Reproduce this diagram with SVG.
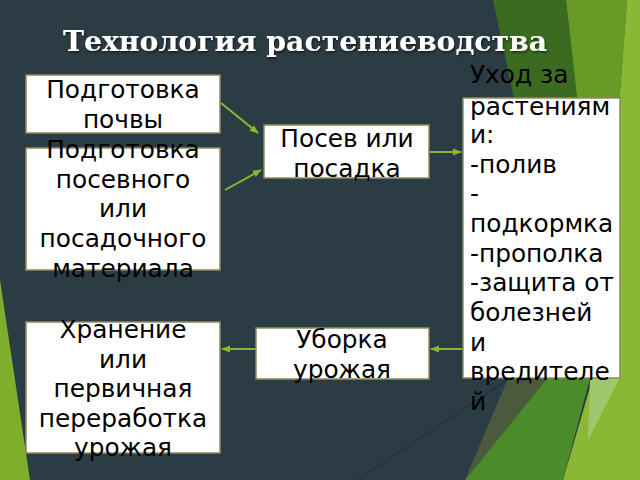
<svg xmlns="http://www.w3.org/2000/svg" width="640" height="480" viewBox="0 0 640 480">
<defs>
<style>
.box{fill:#ffffff;stroke:#8f8a5e;stroke-width:1.5}
.t{font-family:"DejaVu Sans","Noto Sans",sans-serif;font-size:24.8px;fill:#000000}
.c{text-anchor:middle}
.title{font-family:"DejaVu Serif","Liberation Serif",serif;font-weight:bold;font-size:28.3px;fill:#ffffff;text-anchor:middle}
.conn{stroke:#86b830;stroke-width:2;fill:none;marker-end:url(#ah)}
</style>
<marker id="ah" viewBox="0 0 10 10" refX="9" refY="5" markerWidth="4.5" markerHeight="4.5" orient="auto" markerUnits="strokeWidth">
<path d="M0,1 L10,5 L0,9 z" fill="#86b830"/>
</marker>
<filter id="sh" x="-5%" y="-20%" width="110%" height="150%">
<feDropShadow dx="1" dy="1.5" stdDeviation="1" flood-color="#000000" flood-opacity="0.6"/>
</filter>
</defs>
<g id="background">
<rect x="0" y="0" width="640" height="480" fill="#2c3c44"/>
<polygon points="493,0 566,0 600,300 540,220" fill="#3b6b20"/>
<polygon points="566,0 627,0 612,200 600,300" fill="#6a9a26"/>
<polygon points="627,0 640,0 640,480 563,480 595,370 612,200" fill="#8ab835"/>
<polygon points="465,480 520,350 570,350" fill="#4b5a3c"/>
<polygon points="465,480 612,298 590,378 563,480" fill="#4b8b29"/>
<polygon points="590,378 620,378 588,440" fill="#a0c66c"/>
<line x1="357" y1="480" x2="512" y2="377" stroke="#1f2b31" stroke-width="1"/>
<polygon points="0,280 30,480 0,480" fill="#7fae2c"/>
</g>
<text class="title" x="305" y="51" filter="url(#sh)">Технология растениеводства</text>
<g id="connectors">
<line class="conn" x1="221" y1="103" x2="258" y2="133"/>
<line class="conn" x1="225" y1="190" x2="261" y2="170"/>
<line class="conn" x1="430" y1="152" x2="461" y2="152"/>
<line class="conn" x1="462" y1="349" x2="431" y2="349"/>
<line class="conn" x1="256" y1="349" x2="222" y2="349"/>
</g>
<g id="n1">
<rect class="box" x="26" y="75" width="194" height="58"/>
<text class="t c" x="123" y="98">Подготовка</text>
<text class="t c" x="123" y="127.7">почвы</text>
</g>
<g id="n2">
<rect class="box" x="26" y="148" width="194" height="122"/>
<text class="t c" x="123" y="158">Подготовка</text>
<text class="t c" x="123" y="187.7">посевного</text>
<text class="t c" x="123" y="217.4">или</text>
<text class="t c" x="123" y="247.1">посадочного</text>
<text class="t c" x="123" y="276.8">материала</text>
</g>
<g id="n3">
<rect class="box" x="264" y="125" width="165" height="53"/>
<text class="t c" x="347" y="147">Посев или</text>
<text class="t c" x="347" y="176.7">посадка</text>
</g>
<g id="n4">
<rect class="box" x="463" y="98" width="157" height="280"/>
<text class="t" x="470" y="83.3">Уход за</text>
<text class="t" x="470" y="114.5">растениям</text>
<text class="t" x="470" y="143">и:</text>
<text class="t" x="470" y="172.6">-полив</text>
<text class="t" x="470" y="202.2">-</text>
<text class="t" x="470" y="231.8">подкормка</text>
<text class="t" x="470" y="261.5">-прополка</text>
<text class="t" x="470" y="291.2">-защита от</text>
<text class="t" x="470" y="320.9">болезней</text>
<text class="t" x="470" y="350.6">и</text>
<text class="t" x="470" y="380.3">вредителе</text>
<text class="t" x="470" y="410">й</text>
</g>
<g id="n5">
<rect class="box" x="256" y="328" width="173" height="51"/>
<text class="t c" x="342" y="348">Уборка</text>
<text class="t c" x="342" y="377.7">урожая</text>
</g>
<g id="n6">
<rect class="box" x="26" y="322" width="194" height="131"/>
<text class="t c" x="123" y="338">Хранение</text>
<text class="t c" x="123" y="367.7">или</text>
<text class="t c" x="123" y="397.4">первичная</text>
<text class="t c" x="123" y="427.1">переработка</text>
<text class="t c" x="123" y="456">урожая</text>
</g>
</svg>
